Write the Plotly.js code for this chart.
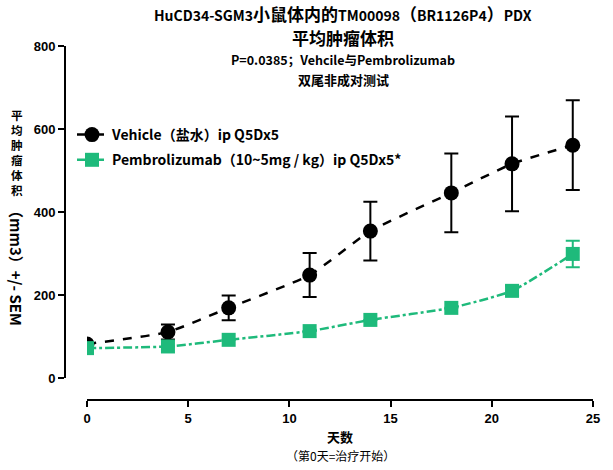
<!DOCTYPE html>
<html><head><meta charset="utf-8">
<script src="https://cdn.plot.ly/plotly-3.0.1.min.js"></script>
<style>body{margin:0;background:#fff}#chart{width:613px;height:470px}</style>
</head><body><div id="chart"></div>
<script>
const days = [0, 4, 7, 11, 14, 18, 21, 24];
const vehicleMean = [82, 111, 169, 248, 354, 446, 516, 561];
const vehicleSem  = [0, 18, 30, 53, 71, 95, 114, 108];
const pembroMean  = [72, 76, 92, 113, 140, 169, 210, 299];
const pembroSem   = [0, 0, 0, 0, 0, 0, 12, 32];
const xTicks = [0, 5, 10, 15, 20, 25];
const yTicks = [0, 200, 400, 600, 800];
const seriesNames = ['Vehicle（盐水）ip Q5Dx5', 'Pembrolizumab（10~5mg / kg）ip Q5Dx5*'];
const yTitleChars = ['平', '均', '肿', '瘤', '体', '积'];

const green = '#1EBA7B';
const cjk = '"Noto Sans CJK SC", sans-serif';
const big = s => '<span style="font-size:17px">' + s + '</span>';

const traces = [
  {x: days, y: vehicleMean, name: seriesNames[0], legendgroup: 'veh', type: 'scatter', mode: 'lines+markers',
   line: {color: '#000', width: 2.5, dash: 'dash', shape: 'spline', smoothing: 0.5},
   marker: {symbol: 'circle', size: 15, color: '#000'},
   error_y: {type: 'data', array: vehicleSem, visible: true, color: '#000', thickness: 2, width: 7}},
  {x: days, y: pembroMean, name: seriesNames[1], legendgroup: 'pem', type: 'scatter', mode: 'lines+markers',
   line: {color: green, width: 2.5, dash: 'dashdot', shape: 'spline', smoothing: 0.5},
   marker: {symbol: 'square', size: 14, color: green},
   error_y: {type: 'data', array: pembroSem, visible: true, color: green, thickness: 2, width: 7}}
];

const W = 613, H = 470, L = 65, R = 20, T = 46, B = 70;
const pw = W - L - R, ph = H - T - B;
const px = v => (v - L) / pw;
const py = v => 1 - (v - T) / ph;

const annotations = [
  {text: '<b>HuCD34-SGM3' + big('小鼠体内的') + 'TM00098' + big('（') + 'BR1126P4' + big('）') + 'PDX</b>',
   x: px(343), y: py(14), size: 14},
  {text: '<b>平均肿瘤体积</b>', x: px(343), y: py(38), size: 17},
  {text: '<b>P=0.0385；Vehcile与Pembrolizumab</b>', x: px(343), y: py(60), size: 12.5},
  {text: '<b>双尾非成对测试</b>', x: px(343), y: py(79), size: 13},
  {text: '<b>天数</b>', x: px(340), y: py(436), size: 13},
  {text: '（第0天=治疗开始）', x: px(340), y: py(455), size: 12},
  {text: '<b>（mm3）+/- SEM</b>', x: px(17), y: py(264), size: 15, angle: 90},
  {text: '<b>' + yTitleChars.join('<br>') + '</b>', x: px(17), y: py(152), size: 11.6}
].map(a => ({text: a.text, xref: 'paper', yref: 'paper', x: a.x, y: a.y, showarrow: false,
   xanchor: 'center', yanchor: 'middle', textangle: a.angle || 0,
   font: {family: cjk, size: a.size, color: '#000'}}));

const layout = {
  width: W, height: H,
  margin: {l: L, r: R, t: T, b: B, pad: 0},
  paper_bgcolor: '#fff', plot_bgcolor: '#fff',
  showlegend: true,
  legend: {x: 7 / pw, y: py(119), xanchor: 'left', yanchor: 'top', bgcolor: 'rgba(0,0,0,0)',
           traceorder: 'grouped',
           font: {family: cjk, size: 14, color: '#000', weight: 'bold'}, tracegroupgap: 4,
           itemwidth: 30},
  xaxis: {range: [0, 25], domain: [(87 - L) / pw, 1], anchor: 'free', position: 0,
          tickvals: xTicks, ticks: 'outside', ticklen: 6, tickwidth: 2, tickcolor: '#000',
          showline: true, linecolor: '#000', linewidth: 2, showgrid: false, zeroline: false,
          tickfont: {family: 'Liberation Sans, Arial', size: 13, color: '#000', weight: 'bold'}},
  yaxis: {range: [0, 800], domain: [(400 - 378) / ph, 1], anchor: 'free', position: 0,
          tickvals: yTicks, ticks: 'outside', ticklen: 6, tickwidth: 2, tickcolor: '#000',
          showline: true, linecolor: '#000', linewidth: 2, showgrid: false, zeroline: false,
          tickfont: {family: 'Liberation Sans, Arial', size: 13, color: '#000', weight: 'bold'}},
  annotations: annotations
};

Plotly.newPlot('chart', traces, layout, {displayModeBar: false, staticPlot: true});
</script>
</body></html>
